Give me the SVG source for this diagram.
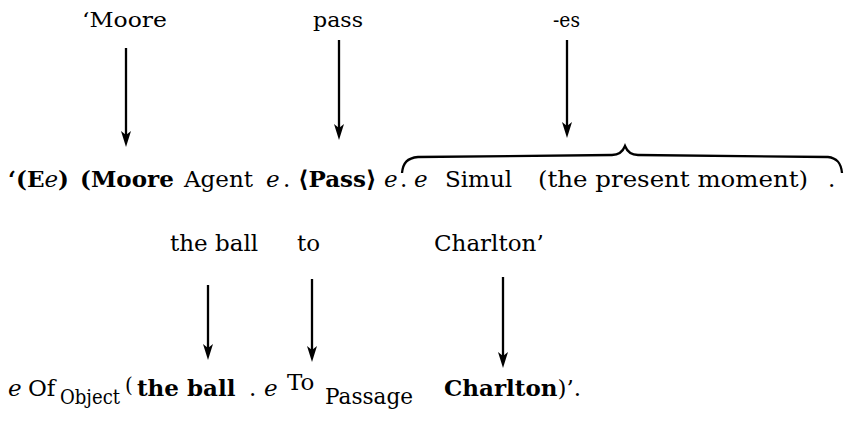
<svg xmlns="http://www.w3.org/2000/svg" width="846" height="425" viewBox="0 0 846 425">
<defs>
<style>
text{font-family:"DejaVu Serif","Liberation Serif",serif;fill:#000;}
.t{font-size:21px;}
.m{font-size:23px;}
.b{font-weight:bold;}
.i{font-style:italic;}
.s{font-size:20px;}
.arr{stroke:#000;stroke-width:2.3;fill:none;marker-end:url(#ah);}
.brace{stroke:#000;stroke-width:2.3;fill:none;}
</style>
<marker id="ah" markerUnits="userSpaceOnUse" markerWidth="18" markerHeight="12" refX="8" refY="5" orient="auto" viewBox="0 0 18 12">
<path d="M0,0 L16,5 L0,10 L4,5 z" fill="#000"/>
</marker>
</defs>
<rect width="846" height="425" fill="#fff"/>

<g id="top-labels">
<text class="t" x="82" y="27" textLength="85" lengthAdjust="spacingAndGlyphs">‘Moore</text>
<text class="t" x="313" y="27" textLength="50" lengthAdjust="spacingAndGlyphs">pass</text>
<text class="t" x="553" y="27" textLength="27" lengthAdjust="spacingAndGlyphs">-es</text>
</g>

<g id="connectors">
<line class="arr" x1="126" y1="48" x2="126" y2="139"/>
<line class="arr" x1="339" y1="40" x2="339" y2="132"/>
<line class="arr" x1="567" y1="40" x2="567" y2="130"/>
<line class="arr" x1="208" y1="285" x2="208" y2="352"/>
<line class="arr" x1="312" y1="279" x2="312" y2="354"/>
<line class="arr" x1="503" y1="277" x2="503" y2="360"/>
</g>

<g id="brace">
<path class="brace" d="M402,173 C403,163 407,158 418,157 L612,155 C619,155 623,151 625,146 C627,151 631,155 638,155 L828,157 C837,158 841,163 842,173"/>
</g>

<g id="line2">
<text class="m" x="8" y="187"><tspan class="b">‘(E</tspan><tspan class="i">e</tspan><tspan class="b">)</tspan></text>
<text class="m b" x="80" y="187">(Moore</text>
<text class="m" x="184" y="187">Agent</text>
<text class="m i" x="266" y="187">e</text>
<text class="m" x="283" y="187">.</text>
<text class="m b" x="298" y="187">⟨Pass⟩</text>
<text class="m i" x="384" y="187">e</text>
<text class="m" x="400" y="187">.</text>
<text class="m i" x="414" y="187">e</text>
<text class="m" x="445" y="187">Simul</text>
<text class="m" x="538" y="187" textLength="270" lengthAdjust="spacingAndGlyphs">(the present moment)</text>
<text class="m" x="828" y="187">.</text>
</g>

<g id="line3">
<text class="m" x="170" y="251">the ball</text>
<text class="m" x="297" y="251">to</text>
<text class="m" x="434" y="251">Charlton’</text>
</g>

<g id="line4">
<text class="m i" x="8" y="396">e</text>
<text class="m" x="28" y="396">Of</text>
<text class="s" x="60" y="404" textLength="60" lengthAdjust="spacingAndGlyphs">Object</text>
<text class="s" x="125" y="392">(</text>
<text class="m b" x="137" y="396">the ball</text>
<text class="m" x="249" y="396">.</text>
<text class="m i" x="264" y="396">e</text>
<text class="m" x="287" y="390">To</text>
<text class="m" x="325" y="404" textLength="88" lengthAdjust="spacingAndGlyphs">Passage</text>
<text class="m" x="444" y="396"><tspan class="b">Charlton</tspan>)’.</text>
</g>
</svg>
